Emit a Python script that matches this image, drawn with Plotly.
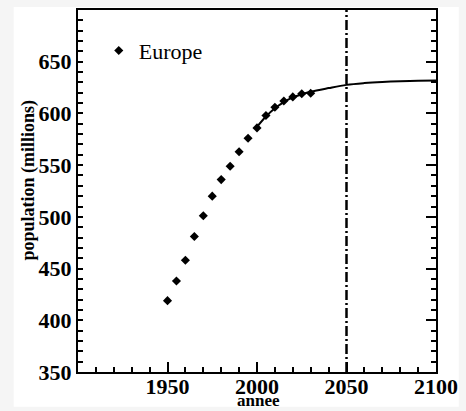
import plotly.graph_objects as go

# Europe population, observed / estimated (millions)
years = [1950, 1955, 1960, 1965, 1970, 1975, 1980, 1985, 1990,
         1995, 2000, 2005, 2010, 2015, 2020, 2025, 2030]
population = [419, 438, 458, 481, 501, 520, 536, 549, 563,
              576, 586, 598, 606, 612, 616, 619, 619.5]

# projected trend curve
proj_years = [2000, 2005, 2010, 2015, 2020, 2025, 2030, 2040, 2050,
              2060, 2070, 2080, 2090, 2100]
proj_pop = [587, 597, 605, 611, 615.5, 618.5, 621, 624.5, 627.6,
            629.3, 630.4, 631.1, 631.5, 631.8]

marker_year = [2050, 2050]
marker_span = [350, 700]

x_ticks = [1950, 2000, 2050, 2100]
y_ticks = [350, 400, 450, 500, 550, 600, 650]

SERIF = "Liberation Serif, Times New Roman, serif"

W, H = 466, 411
L, R, T, B = 78, 26, 8, 39
pw, ph = W - L - R, H - T - B


def px_x(p):
    return (p - L) / pw


def px_y(p):
    return (H - B - p) / ph


fig = go.Figure()

fig.add_trace(go.Scatter(
    x=proj_years, y=proj_pop, mode="lines", line=dict(color="black", width=2, shape="spline"),
    showlegend=False, hoverinfo="skip"))

fig.add_trace(go.Scatter(
    x=marker_year, y=marker_span, mode="lines",
    line=dict(color="black", width=2.5, dash="10px,3px,2px,3px"),
    showlegend=False, hoverinfo="skip"))

fig.add_trace(go.Scatter(
    x=years, y=population, mode="markers", name="Europe",
    marker=dict(symbol="diamond", size=7, color="black")))

# invisible trace on the right axis to carry its ticks
fig.add_trace(go.Scatter(x=[1900], y=[350], yaxis="y2", mode="markers",
                         marker=dict(opacity=0), showlegend=False, hoverinfo="skip"))

axis_common = dict(showgrid=False, zeroline=False, showline=True, linecolor="black",
                   linewidth=2, ticks="inside", tickcolor="black", tickwidth=1.5)

fig.update_layout(
    width=W, height=H,
    margin=dict(l=L, r=R, t=T, b=B),
    paper_bgcolor="#f5f5f5",
    plot_bgcolor="white",
    font=dict(family=SERIF, color="black"),
    xaxis=dict(range=[1900, 2100], tickvals=x_ticks, ticklen=10,
               minor=dict(dtick=10, tick0=1900, ticklen=5, ticks="inside",
                          tickcolor="black", tickwidth=1.5, showgrid=False),
               tickfont=dict(family=SERIF, size=22, weight="bold", color="black"),
               ticklabelstandoff=-6,
               mirror=True, **axis_common),
    yaxis=dict(range=[350, 700], tickvals=y_ticks, ticklen=5,
               minor=dict(dtick=10, tick0=350, ticklen=5, ticks="inside",
                          tickcolor="black", tickwidth=1.5, showgrid=False),
               tickfont=dict(family=SERIF, size=22, weight="bold", color="black"),
               **axis_common),
    yaxis2=dict(range=[350, 700], overlaying="y", side="right", tickvals=y_ticks,
                showticklabels=False, ticklen=10,
                minor=dict(dtick=10, tick0=350, ticklen=5, ticks="inside",
                           tickcolor="black", tickwidth=1.5, showgrid=False),
                **axis_common),
    legend=dict(x=px_x(99), y=px_y(49), xanchor="left", yanchor="middle",
                bgcolor="rgba(0,0,0,0)", font=dict(family=SERIF, size=22, color="black")),
    shapes=[dict(type="rect", xref="paper", yref="paper", layer="below",
                 x0=px_x(13), x1=px_x(463), y0=px_y(407), y1=px_y(5),
                 fillcolor="white", line=dict(width=0))],
    annotations=[
        dict(text="population (millions)", xref="paper", yref="paper",
             x=px_x(27), y=px_y(179), xanchor="center", yanchor="middle",
             textangle=-90, showarrow=False,
             font=dict(family=SERIF, size=18, weight="bold", color="black")),
        dict(text="annee", xref="paper", yref="paper",
             x=px_x(261), y=px_y(401), xanchor="center", yanchor="middle",
             showarrow=False,
             font=dict(family=SERIF, size=17, weight="bold", color="black")),
    ],
)

fig.write_html("out.html")
